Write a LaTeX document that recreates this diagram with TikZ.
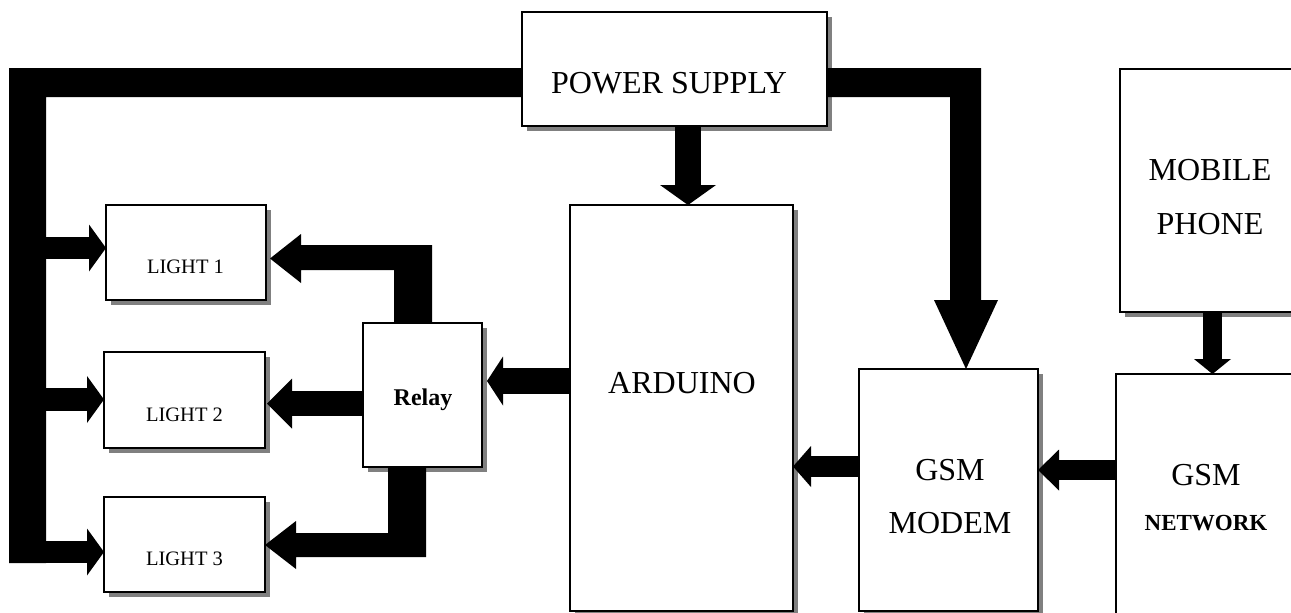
\documentclass[tikz,border=0pt]{standalone}
\usepackage{fontspec}
\setmainfont{Liberation Serif}
\usetikzlibrary{arrows.meta,shadows}
\tikzset{
  box/.style={draw=black, line width=1.5pt, fill=white, inner sep=0pt, outer sep=0pt,
    drop shadow={shadow xshift=5pt, shadow yshift=-5pt, fill=gray, opacity=1}},
  big/.style={font=\fontsize{32}{38}\selectfont, anchor=base, inner sep=0pt},
  small/.style={font=\fontsize{20.5}{24}\selectfont, anchor=base, inner sep=0pt},
  boldtxt/.style={font=\bfseries\fontsize{#1}{28}\selectfont, anchor=base, inner sep=0pt},
  harrow/.style n args={3}{line width=#1, -{Triangle[length=#2, width=#3, line width=0pt]}},
  bus/.style={fill=black}
}
\begin{document}
\begin{tikzpicture}[x=1pt,y=-1pt]
\useasboundingbox (0,0) rectangle (1291,613);
\begin{scope}
\clip (0,0) rectangle (1291,613);
% boxes
\node[box, minimum width=305pt, minimum height=114pt] (power) at (674.5,69) {};
\node[box, minimum width=160pt, minimum height=95pt] (light1) at (186,252.5) {};
\node[box, minimum width=161pt, minimum height=96pt] (light2) at (184.5,400) {};
\node[box, minimum width=161pt, minimum height=95pt] (light3) at (184.5,544.5) {};
\node[box, minimum width=119pt, minimum height=144pt] (relay) at (422.5,395) {};
\node[box, minimum width=223pt, minimum height=406pt] (arduino) at (681.5,408) {};
\node[box, minimum width=179pt, minimum height=242pt] (modem) at (948.5,490) {};
\node[box, minimum width=180pt, minimum height=243pt] (mobile) at (1210,190.5) {};
\node[box, minimum width=180pt, minimum height=260pt] (network) at (1206,504) {};
% texts
\node[big] (tpower) at (669,93) {POWER SUPPLY};
\node[big] (tarduino) at (682,393) {ARDUINO};
\node[small] (tl1) at (185.5,273) {LIGHT 1};
\node[small] (tl2) at (184.5,421) {LIGHT 2};
\node[small] (tl3) at (184.5,565) {LIGHT 3};
\node[boldtxt=24] (trelay) at (423,405) {Relay};
\node[big] (tgsma) at (950,480) {GSM};
\node[big] (tmodem) at (950,533) {MODEM};
\node[big] (tmob) at (1210,180) {MOBILE};
\node[big] (tphone) at (1210,234) {PHONE};
\node[big] (tgsmb) at (1206,485) {GSM};
\node[boldtxt=23] (tnet) at (1206,530) {NETWORK};
% buses
\fill[bus] (power.west |- 0,68) -- (9,68) -- (9,563) -- (46,563) -- (46,97) -- (power.west |- 0,97) -- cycle;
\fill[bus] (power.east |- 0,68) -- (981,68) -- (981,300) -- (998,300) -- (modem.north -| 966,0) -- (934,300) -- (950,300) -- (950,97) -- (power.east |- 0,97) -- cycle;
\fill[bus] (relay.north -| 394,0) -- (394,270) -- (301,270) -- (301,283) -- (270,258.5) -- (301,234) -- (301,245) -- (432,245) -- (relay.north -| 432,0) -- cycle;
\fill[bus] (relay.south -| 388,0) -- (388,533) -- (296,533) -- (296,521) -- (265,545) -- (296,569) -- (296,557) -- (426,557) -- (relay.south -| 426,0) -- cycle;
% arrows
\draw[harrow={22pt}{17pt}{47pt}] (40,248) -- (light1.west |- 0,248);
\draw[harrow={23pt}{17pt}{47pt}] (40,399.5) -- (light2.west |- 0,399.5);
\draw[harrow={22pt}{17pt}{47pt}] (40,552) -- (light3.west |- 0,552);
\draw[harrow={25pt}{25pt}{50pt}] (relay.west |- 0,403.5) -- (267,403.5);
\draw[harrow={26pt}{16pt}{49pt}] (arduino.west |- 0,381) -- (487,381);
\draw[harrow={26pt}{20pt}{56pt}] (power.south -| 688,0) -- (arduino.north -| 688,0);
\draw[harrow={21pt}{18pt}{41pt}] (modem.west |- 0,466.5) -- (arduino.east |- 0,466.5);
\draw[harrow={20pt}{21pt}{41pt}] (network.west |- 0,470) -- (modem.east |- 0,470);
\draw[harrow={19pt}{15pt}{37pt}] (mobile.south -| 1212.5,0) -- (network.north -| 1212.5,0);
\end{scope}
\end{tikzpicture}
\end{document}
